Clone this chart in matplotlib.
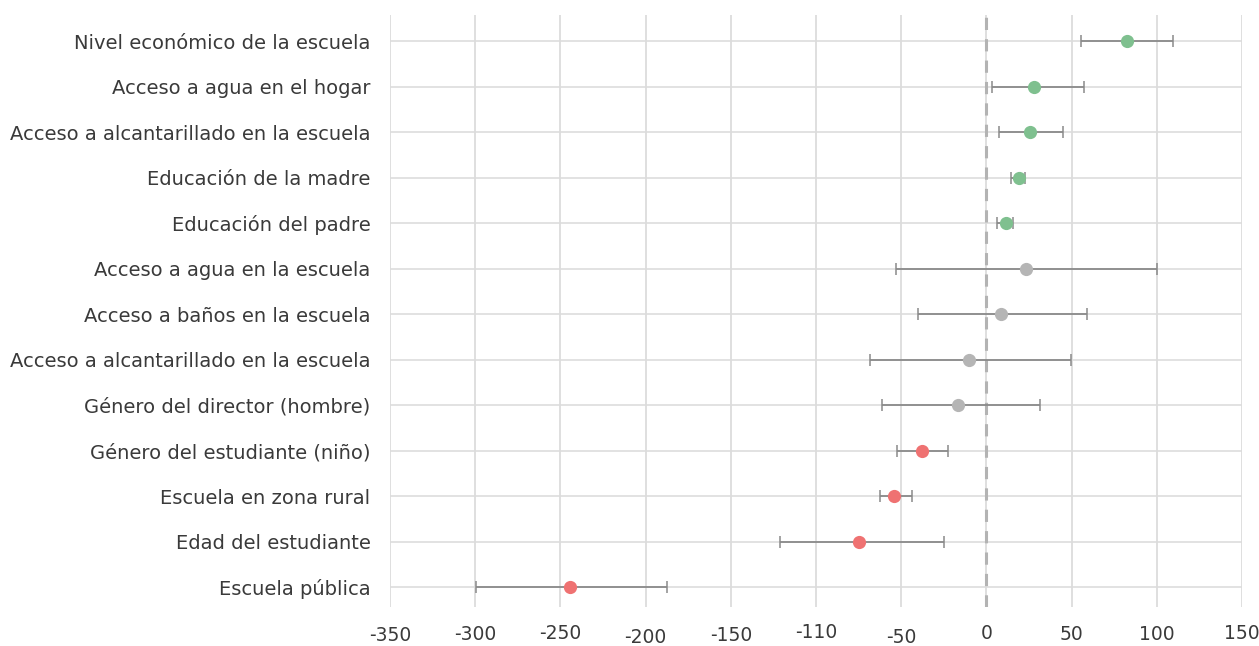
import matplotlib
matplotlib.use("Agg")
import matplotlib.pyplot as plt
from matplotlib.transforms import ScaledTranslation

labels = [
    "Nivel económico de la escuela",
    "Acceso a agua en el hogar",
    "Acceso a alcantarillado en la escuela",
    "Educación de la madre",
    "Educación del padre",
    "Acceso a agua en la escuela",
    "Acceso a baños en la escuela",
    "Acceso a alcantarillado en la escuela",
    "Género del director (hombre)",
    "Género del estudiante (niño)",
    "Escuela en zona rural",
    "Edad del estudiante",
    "Escuela pública",
]
estimates = [82.5, 28, 25.4, 19, 11.5, 23, 8.6, -10.2, -16.5, -37.8, -54.2, -74.8, -244.5]
ci_low = [55.5, 3.3, 7.2, 14.5, 6.2, -53, -40, -68.5, -61.5, -52.5, -62.5, -121, -299.3]
ci_high = [109.5, 57, 44.8, 22.7, 15.6, 100, 59.2, 49.8, 31.3, -22.5, -43.7, -24.9, -187.3]
groups = ["pos"] * 5 + ["ns"] * 4 + ["neg"] * 4

x_ticks = [-350, -300, -250, -200, -150, -100, -50, 0, 50, 100, 150]
x_tick_labels = ["-350", "-300", "-250", "-200", "-150", "-110", "-50", "0", "50", "100", "150"]
# small vertical jitter of tick labels seen in the original (pixels)
x_label_shift = [1, 0, -1, 3, 1, -2, 3, -1, 0, 0, -1]

colors = {"pos": "#7fc08f", "ns": "#b5b5b5", "neg": "#ef7272"}

plt.rcParams["font.family"] = ["DejaVu Sans"]

fig = plt.figure(figsize=(12.59, 6.46), dpi=100)
ax = fig.add_axes([390 / 1259, 1 - 607 / 646, (1242 - 390) / 1259, (607 - 15) / 646])

n = len(labels)
ys = [n - 1 - i for i in range(n)]

for y in ys:
    ax.axhline(y, color="#dadada", lw=1.1, zorder=0)
for xt in x_ticks:
    ax.axvline(xt, color="#dcdcdc", lw=1.3, zorder=0)

ax.axvline(0, color="#b3b3b3", lw=2.2, ls=(0, (4, 3)), zorder=1)

for y, e, lo, hi, g in zip(ys, estimates, ci_low, ci_high, groups):
    ax.errorbar([e], [y], xerr=[[e - lo], [hi - e]], fmt="none",
                ecolor="#8a8a8a", elinewidth=1.3, capsize=4.5, capthick=1.1, zorder=2)
    ax.plot([e], [y], "o", ms=9.5, color=colors[g], mec="none", zorder=3)

ax.set_xlim(-350, 150)
ax.set_ylim(-0.44, 12.58)
ax.set_yticks(ys)
ax.set_yticklabels(labels, fontsize=14, color="#3a3a3a")
ax.set_xticks(x_ticks)
ax.set_xticklabels(x_tick_labels, fontsize=13.5, color="#3a3a3a")
ax.tick_params(axis="y", length=0, pad=14)
ax.tick_params(axis="x", length=0, pad=13)
for lab, dy in zip(ax.get_xticklabels(), x_label_shift):
    lab.set_transform(lab.get_transform() + ScaledTranslation(0, -dy / 100, fig.dpi_scale_trans))
for s in ax.spines.values():
    s.set_visible(False)

fig.savefig("out.png", dpi=100)
